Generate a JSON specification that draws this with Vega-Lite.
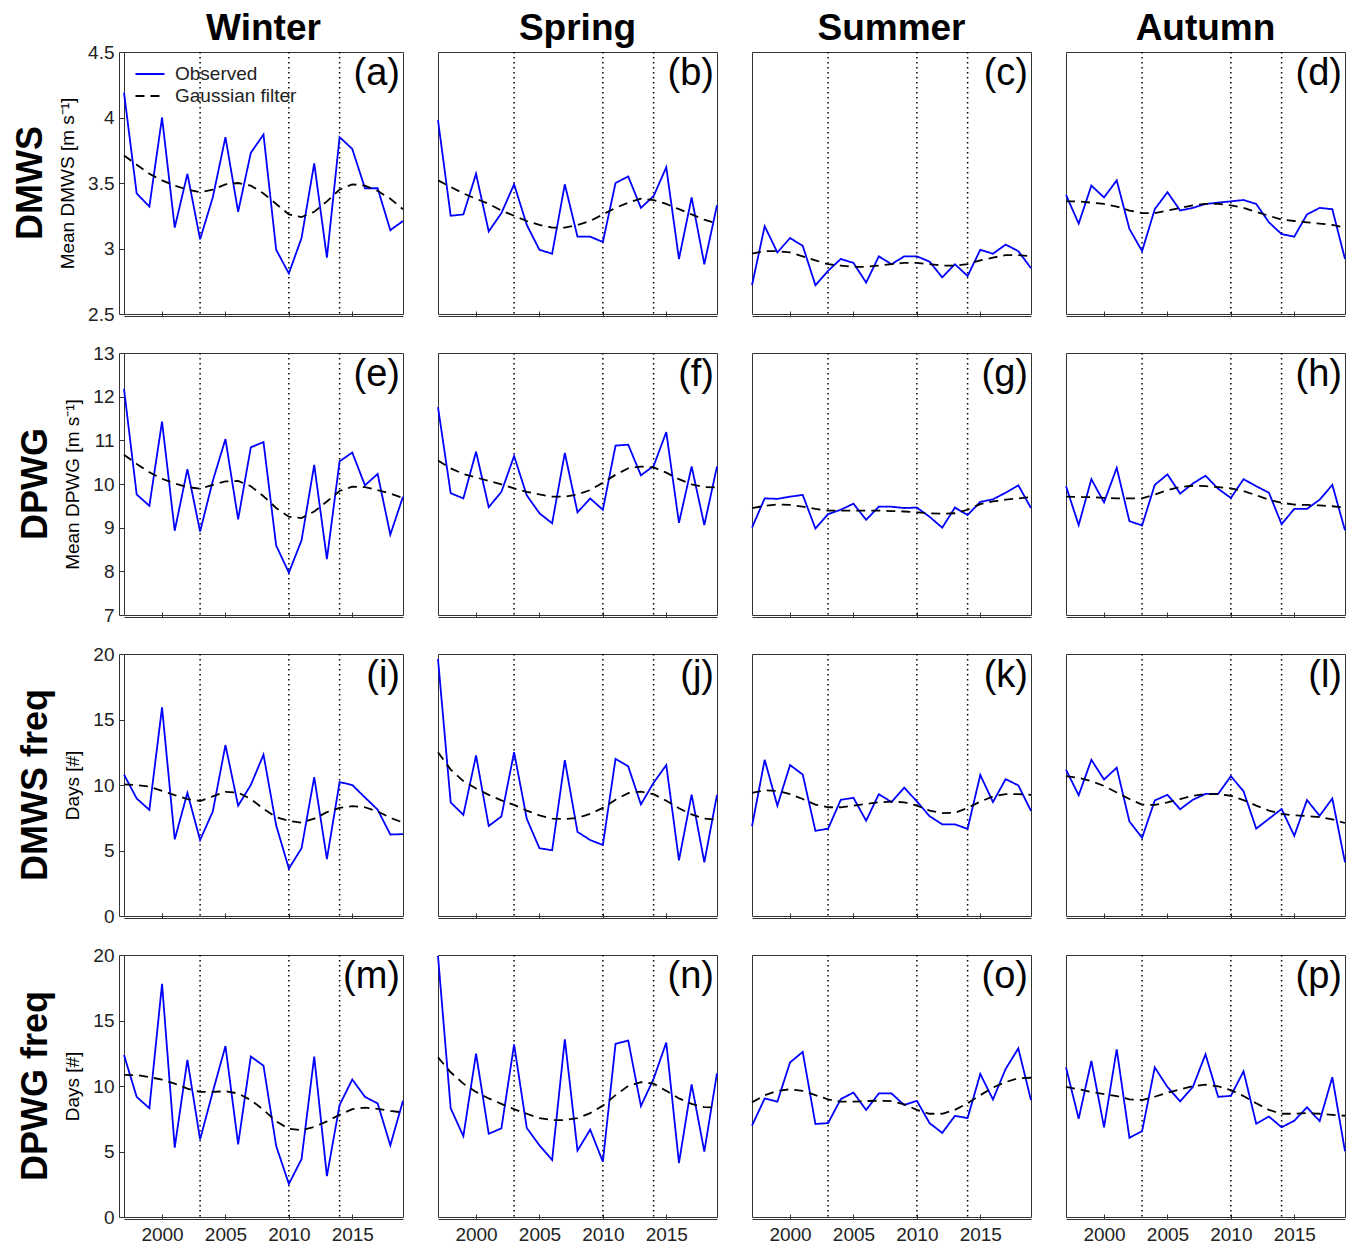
{
"$schema":"https://vega.github.io/schema/vega-lite/v6.json",
"padding":{"left":12,"top":10,"right":0,"bottom":0},
"config":{"font":"Liberation Sans","view":{"stroke":"#333","strokeWidth":1},
"axis":{"grid":false,"domainColor":"#333","tickColor":"#333","labelColor":"#222","labelFontSize":19,"titleFontSize":19,"titleFontWeight":"normal","titleColor":"#000","tickSize":-5,"labelPadding":10,"titlePadding":10},
"axisX":{"labelPadding":11},
"legend":{"labelFontSize":19,"labelColor":"#222"}},
"data":{"values":[
{"var":"DMWS","season":"Winter","year":1997,"obs":4.19,"gau":3.71,"tag":"(a)"},
{"var":"DMWS","season":"Winter","year":1998,"obs":3.42,"gau":3.64},
{"var":"DMWS","season":"Winter","year":1999,"obs":3.32,"gau":3.57},
{"var":"DMWS","season":"Winter","year":2000,"obs":4.00,"gau":3.52},
{"var":"DMWS","season":"Winter","year":2001,"obs":3.16,"gau":3.48},
{"var":"DMWS","season":"Winter","year":2002,"obs":3.57,"gau":3.45},
{"var":"DMWS","season":"Winter","year":2003,"obs":3.07,"gau":3.43},
{"var":"DMWS","season":"Winter","year":2004,"obs":3.39,"gau":3.45},
{"var":"DMWS","season":"Winter","year":2005,"obs":3.85,"gau":3.49},
{"var":"DMWS","season":"Winter","year":2006,"obs":3.28,"gau":3.50},
{"var":"DMWS","season":"Winter","year":2007,"obs":3.73,"gau":3.48},
{"var":"DMWS","season":"Winter","year":2008,"obs":3.87,"gau":3.42},
{"var":"DMWS","season":"Winter","year":2009,"obs":2.99,"gau":3.34},
{"var":"DMWS","season":"Winter","year":2010,"obs":2.81,"gau":3.26},
{"var":"DMWS","season":"Winter","year":2011,"obs":3.08,"gau":3.24},
{"var":"DMWS","season":"Winter","year":2012,"obs":3.65,"gau":3.28},
{"var":"DMWS","season":"Winter","year":2013,"obs":2.93,"gau":3.36},
{"var":"DMWS","season":"Winter","year":2014,"obs":3.85,"gau":3.45},
{"var":"DMWS","season":"Winter","year":2015,"obs":3.76,"gau":3.49},
{"var":"DMWS","season":"Winter","year":2016,"obs":3.46,"gau":3.48},
{"var":"DMWS","season":"Winter","year":2017,"obs":3.46,"gau":3.44},
{"var":"DMWS","season":"Winter","year":2018,"obs":3.14,"gau":3.38},
{"var":"DMWS","season":"Winter","year":2019,"obs":3.21,"gau":3.30},
{"var":"DMWS","season":"Spring","year":1997,"obs":3.98,"gau":3.52,"tag":"(b)"},
{"var":"DMWS","season":"Spring","year":1998,"obs":3.25,"gau":3.47},
{"var":"DMWS","season":"Spring","year":1999,"obs":3.26,"gau":3.42},
{"var":"DMWS","season":"Spring","year":2000,"obs":3.57,"gau":3.38},
{"var":"DMWS","season":"Spring","year":2001,"obs":3.13,"gau":3.34},
{"var":"DMWS","season":"Spring","year":2002,"obs":3.27,"gau":3.29},
{"var":"DMWS","season":"Spring","year":2003,"obs":3.49,"gau":3.25},
{"var":"DMWS","season":"Spring","year":2004,"obs":3.18,"gau":3.21},
{"var":"DMWS","season":"Spring","year":2005,"obs":2.99,"gau":3.18},
{"var":"DMWS","season":"Spring","year":2006,"obs":2.96,"gau":3.16},
{"var":"DMWS","season":"Spring","year":2007,"obs":3.49,"gau":3.16},
{"var":"DMWS","season":"Spring","year":2008,"obs":3.09,"gau":3.18},
{"var":"DMWS","season":"Spring","year":2009,"obs":3.09,"gau":3.21},
{"var":"DMWS","season":"Spring","year":2010,"obs":3.05,"gau":3.26},
{"var":"DMWS","season":"Spring","year":2011,"obs":3.50,"gau":3.31},
{"var":"DMWS","season":"Spring","year":2012,"obs":3.55,"gau":3.35},
{"var":"DMWS","season":"Spring","year":2013,"obs":3.31,"gau":3.38},
{"var":"DMWS","season":"Spring","year":2014,"obs":3.40,"gau":3.37},
{"var":"DMWS","season":"Spring","year":2015,"obs":3.62,"gau":3.34},
{"var":"DMWS","season":"Spring","year":2016,"obs":2.92,"gau":3.30},
{"var":"DMWS","season":"Spring","year":2017,"obs":3.39,"gau":3.26},
{"var":"DMWS","season":"Spring","year":2018,"obs":2.88,"gau":3.22},
{"var":"DMWS","season":"Spring","year":2019,"obs":3.33,"gau":3.19},
{"var":"DMWS","season":"Summer","year":1997,"obs":2.72,"gau":2.96,"tag":"(c)"},
{"var":"DMWS","season":"Summer","year":1998,"obs":3.17,"gau":2.98},
{"var":"DMWS","season":"Summer","year":1999,"obs":2.97,"gau":2.98},
{"var":"DMWS","season":"Summer","year":2000,"obs":3.08,"gau":2.97},
{"var":"DMWS","season":"Summer","year":2001,"obs":3.02,"gau":2.94},
{"var":"DMWS","season":"Summer","year":2002,"obs":2.72,"gau":2.91},
{"var":"DMWS","season":"Summer","year":2003,"obs":2.83,"gau":2.88},
{"var":"DMWS","season":"Summer","year":2004,"obs":2.92,"gau":2.87},
{"var":"DMWS","season":"Summer","year":2005,"obs":2.89,"gau":2.86},
{"var":"DMWS","season":"Summer","year":2006,"obs":2.74,"gau":2.86},
{"var":"DMWS","season":"Summer","year":2007,"obs":2.94,"gau":2.87},
{"var":"DMWS","season":"Summer","year":2008,"obs":2.88,"gau":2.88},
{"var":"DMWS","season":"Summer","year":2009,"obs":2.94,"gau":2.89},
{"var":"DMWS","season":"Summer","year":2010,"obs":2.94,"gau":2.89},
{"var":"DMWS","season":"Summer","year":2011,"obs":2.90,"gau":2.88},
{"var":"DMWS","season":"Summer","year":2012,"obs":2.78,"gau":2.87},
{"var":"DMWS","season":"Summer","year":2013,"obs":2.88,"gau":2.87},
{"var":"DMWS","season":"Summer","year":2014,"obs":2.79,"gau":2.88},
{"var":"DMWS","season":"Summer","year":2015,"obs":2.99,"gau":2.91},
{"var":"DMWS","season":"Summer","year":2016,"obs":2.96,"gau":2.93},
{"var":"DMWS","season":"Summer","year":2017,"obs":3.03,"gau":2.95},
{"var":"DMWS","season":"Summer","year":2018,"obs":2.98,"gau":2.95},
{"var":"DMWS","season":"Summer","year":2019,"obs":2.85,"gau":2.94},
{"var":"DMWS","season":"Autumn","year":1997,"obs":3.41,"gau":3.36,"tag":"(d)"},
{"var":"DMWS","season":"Autumn","year":1998,"obs":3.19,"gau":3.36},
{"var":"DMWS","season":"Autumn","year":1999,"obs":3.48,"gau":3.35},
{"var":"DMWS","season":"Autumn","year":2000,"obs":3.39,"gau":3.34},
{"var":"DMWS","season":"Autumn","year":2001,"obs":3.52,"gau":3.32},
{"var":"DMWS","season":"Autumn","year":2002,"obs":3.15,"gau":3.29},
{"var":"DMWS","season":"Autumn","year":2003,"obs":2.98,"gau":3.27},
{"var":"DMWS","season":"Autumn","year":2004,"obs":3.30,"gau":3.27},
{"var":"DMWS","season":"Autumn","year":2005,"obs":3.43,"gau":3.29},
{"var":"DMWS","season":"Autumn","year":2006,"obs":3.29,"gau":3.31},
{"var":"DMWS","season":"Autumn","year":2007,"obs":3.31,"gau":3.33},
{"var":"DMWS","season":"Autumn","year":2008,"obs":3.34,"gau":3.34},
{"var":"DMWS","season":"Autumn","year":2009,"obs":3.35,"gau":3.34},
{"var":"DMWS","season":"Autumn","year":2010,"obs":3.36,"gau":3.33},
{"var":"DMWS","season":"Autumn","year":2011,"obs":3.37,"gau":3.31},
{"var":"DMWS","season":"Autumn","year":2012,"obs":3.34,"gau":3.28},
{"var":"DMWS","season":"Autumn","year":2013,"obs":3.20,"gau":3.25},
{"var":"DMWS","season":"Autumn","year":2014,"obs":3.11,"gau":3.22},
{"var":"DMWS","season":"Autumn","year":2015,"obs":3.09,"gau":3.21},
{"var":"DMWS","season":"Autumn","year":2016,"obs":3.26,"gau":3.20},
{"var":"DMWS","season":"Autumn","year":2017,"obs":3.31,"gau":3.19},
{"var":"DMWS","season":"Autumn","year":2018,"obs":3.30,"gau":3.18},
{"var":"DMWS","season":"Autumn","year":2019,"obs":2.92,"gau":3.16},
{"var":"DPWG","season":"Winter","year":1997,"obs":12.18,"gau":10.67,"tag":"(e)"},
{"var":"DPWG","season":"Winter","year":1998,"obs":9.76,"gau":10.46},
{"var":"DPWG","season":"Winter","year":1999,"obs":9.50,"gau":10.27},
{"var":"DPWG","season":"Winter","year":2000,"obs":11.43,"gau":10.12},
{"var":"DPWG","season":"Winter","year":2001,"obs":8.93,"gau":10.01},
{"var":"DPWG","season":"Winter","year":2002,"obs":10.34,"gau":9.93},
{"var":"DPWG","season":"Winter","year":2003,"obs":8.91,"gau":9.89},
{"var":"DPWG","season":"Winter","year":2004,"obs":10.07,"gau":9.98},
{"var":"DPWG","season":"Winter","year":2005,"obs":11.03,"gau":10.06},
{"var":"DPWG","season":"Winter","year":2006,"obs":9.19,"gau":10.07},
{"var":"DPWG","season":"Winter","year":2007,"obs":10.84,"gau":9.95},
{"var":"DPWG","season":"Winter","year":2008,"obs":10.96,"gau":9.72},
{"var":"DPWG","season":"Winter","year":2009,"obs":8.59,"gau":9.45},
{"var":"DPWG","season":"Winter","year":2010,"obs":7.97,"gau":9.25},
{"var":"DPWG","season":"Winter","year":2011,"obs":8.71,"gau":9.22},
{"var":"DPWG","season":"Winter","year":2012,"obs":10.44,"gau":9.37},
{"var":"DPWG","season":"Winter","year":2013,"obs":8.28,"gau":9.60},
{"var":"DPWG","season":"Winter","year":2014,"obs":10.52,"gau":9.84},
{"var":"DPWG","season":"Winter","year":2015,"obs":10.72,"gau":9.94},
{"var":"DPWG","season":"Winter","year":2016,"obs":9.97,"gau":9.93},
{"var":"DPWG","season":"Winter","year":2017,"obs":10.23,"gau":9.86},
{"var":"DPWG","season":"Winter","year":2018,"obs":8.84,"gau":9.78},
{"var":"DPWG","season":"Winter","year":2019,"obs":9.71,"gau":9.68},
{"var":"DPWG","season":"Spring","year":1997,"obs":11.76,"gau":10.54,"tag":"(f)"},
{"var":"DPWG","season":"Spring","year":1998,"obs":9.79,"gau":10.36},
{"var":"DPWG","season":"Spring","year":1999,"obs":9.67,"gau":10.23},
{"var":"DPWG","season":"Spring","year":2000,"obs":10.74,"gau":10.15},
{"var":"DPWG","season":"Spring","year":2001,"obs":9.47,"gau":10.07},
{"var":"DPWG","season":"Spring","year":2002,"obs":9.82,"gau":9.99},
{"var":"DPWG","season":"Spring","year":2003,"obs":10.64,"gau":9.90},
{"var":"DPWG","season":"Spring","year":2004,"obs":9.74,"gau":9.82},
{"var":"DPWG","season":"Spring","year":2005,"obs":9.33,"gau":9.76},
{"var":"DPWG","season":"Spring","year":2006,"obs":9.10,"gau":9.71},
{"var":"DPWG","season":"Spring","year":2007,"obs":10.71,"gau":9.71},
{"var":"DPWG","season":"Spring","year":2008,"obs":9.35,"gau":9.76},
{"var":"DPWG","season":"Spring","year":2009,"obs":9.67,"gau":9.86},
{"var":"DPWG","season":"Spring","year":2010,"obs":9.41,"gau":10.03},
{"var":"DPWG","season":"Spring","year":2011,"obs":10.88,"gau":10.21},
{"var":"DPWG","season":"Spring","year":2012,"obs":10.90,"gau":10.36},
{"var":"DPWG","season":"Spring","year":2013,"obs":10.20,"gau":10.40},
{"var":"DPWG","season":"Spring","year":2014,"obs":10.41,"gau":10.38},
{"var":"DPWG","season":"Spring","year":2015,"obs":11.19,"gau":10.26},
{"var":"DPWG","season":"Spring","year":2016,"obs":9.11,"gau":10.11},
{"var":"DPWG","season":"Spring","year":2017,"obs":10.40,"gau":9.99},
{"var":"DPWG","season":"Spring","year":2018,"obs":9.06,"gau":9.93},
{"var":"DPWG","season":"Spring","year":2019,"obs":10.40,"gau":9.92},
{"var":"DPWG","season":"Summer","year":1997,"obs":9.00,"gau":9.45,"tag":"(g)"},
{"var":"DPWG","season":"Summer","year":1998,"obs":9.67,"gau":9.50},
{"var":"DPWG","season":"Summer","year":1999,"obs":9.66,"gau":9.53},
{"var":"DPWG","season":"Summer","year":2000,"obs":9.71,"gau":9.52},
{"var":"DPWG","season":"Summer","year":2001,"obs":9.75,"gau":9.48},
{"var":"DPWG","season":"Summer","year":2002,"obs":8.98,"gau":9.43},
{"var":"DPWG","season":"Summer","year":2003,"obs":9.31,"gau":9.39},
{"var":"DPWG","season":"Summer","year":2004,"obs":9.41,"gau":9.39},
{"var":"DPWG","season":"Summer","year":2005,"obs":9.55,"gau":9.39},
{"var":"DPWG","season":"Summer","year":2006,"obs":9.18,"gau":9.39},
{"var":"DPWG","season":"Summer","year":2007,"obs":9.48,"gau":9.39},
{"var":"DPWG","season":"Summer","year":2008,"obs":9.48,"gau":9.38},
{"var":"DPWG","season":"Summer","year":2009,"obs":9.45,"gau":9.37},
{"var":"DPWG","season":"Summer","year":2010,"obs":9.46,"gau":9.35},
{"var":"DPWG","season":"Summer","year":2011,"obs":9.25,"gau":9.33},
{"var":"DPWG","season":"Summer","year":2012,"obs":9.00,"gau":9.32},
{"var":"DPWG","season":"Summer","year":2013,"obs":9.46,"gau":9.33},
{"var":"DPWG","season":"Summer","year":2014,"obs":9.29,"gau":9.41},
{"var":"DPWG","season":"Summer","year":2015,"obs":9.59,"gau":9.54},
{"var":"DPWG","season":"Summer","year":2016,"obs":9.65,"gau":9.60},
{"var":"DPWG","season":"Summer","year":2017,"obs":9.80,"gau":9.64},
{"var":"DPWG","season":"Summer","year":2018,"obs":9.97,"gau":9.67},
{"var":"DPWG","season":"Summer","year":2019,"obs":9.45,"gau":9.70},
{"var":"DPWG","season":"Autumn","year":1997,"obs":9.95,"gau":9.71,"tag":"(h)"},
{"var":"DPWG","season":"Autumn","year":1998,"obs":9.06,"gau":9.70},
{"var":"DPWG","season":"Autumn","year":1999,"obs":10.11,"gau":9.70},
{"var":"DPWG","season":"Autumn","year":2000,"obs":9.58,"gau":9.68},
{"var":"DPWG","season":"Autumn","year":2001,"obs":10.37,"gau":9.67},
{"var":"DPWG","season":"Autumn","year":2002,"obs":9.15,"gau":9.67},
{"var":"DPWG","season":"Autumn","year":2003,"obs":9.05,"gau":9.67},
{"var":"DPWG","season":"Autumn","year":2004,"obs":9.98,"gau":9.76},
{"var":"DPWG","season":"Autumn","year":2005,"obs":10.22,"gau":9.86},
{"var":"DPWG","season":"Autumn","year":2006,"obs":9.78,"gau":9.93},
{"var":"DPWG","season":"Autumn","year":2007,"obs":10.01,"gau":9.96},
{"var":"DPWG","season":"Autumn","year":2008,"obs":10.19,"gau":9.95},
{"var":"DPWG","season":"Autumn","year":2009,"obs":9.89,"gau":9.93},
{"var":"DPWG","season":"Autumn","year":2010,"obs":9.68,"gau":9.90},
{"var":"DPWG","season":"Autumn","year":2011,"obs":10.11,"gau":9.84},
{"var":"DPWG","season":"Autumn","year":2012,"obs":9.95,"gau":9.74},
{"var":"DPWG","season":"Autumn","year":2013,"obs":9.80,"gau":9.64},
{"var":"DPWG","season":"Autumn","year":2014,"obs":9.08,"gau":9.57},
{"var":"DPWG","season":"Autumn","year":2015,"obs":9.43,"gau":9.53},
{"var":"DPWG","season":"Autumn","year":2016,"obs":9.43,"gau":9.52},
{"var":"DPWG","season":"Autumn","year":2017,"obs":9.64,"gau":9.51},
{"var":"DPWG","season":"Autumn","year":2018,"obs":9.98,"gau":9.49},
{"var":"DPWG","season":"Autumn","year":2019,"obs":8.94,"gau":9.46},
{"var":"DMWS freq","season":"Winter","year":1997,"obs":10.8,"gau":10.05,"tag":"(i)"},
{"var":"DMWS freq","season":"Winter","year":1998,"obs":8.97,"gau":10.0},
{"var":"DMWS freq","season":"Winter","year":1999,"obs":8.1,"gau":9.88},
{"var":"DMWS freq","season":"Winter","year":2000,"obs":15.92,"gau":9.55},
{"var":"DMWS freq","season":"Winter","year":2001,"obs":5.85,"gau":9.23},
{"var":"DMWS freq","season":"Winter","year":2002,"obs":9.4,"gau":8.93},
{"var":"DMWS freq","season":"Winter","year":2003,"obs":5.8,"gau":8.78},
{"var":"DMWS freq","season":"Winter","year":2004,"obs":7.97,"gau":9.13},
{"var":"DMWS freq","season":"Winter","year":2005,"obs":13.05,"gau":9.48},
{"var":"DMWS freq","season":"Winter","year":2006,"obs":8.42,"gau":9.42},
{"var":"DMWS freq","season":"Winter","year":2007,"obs":10.0,"gau":8.93},
{"var":"DMWS freq","season":"Winter","year":2008,"obs":12.32,"gau":8.18},
{"var":"DMWS freq","season":"Winter","year":2009,"obs":6.92,"gau":7.55},
{"var":"DMWS freq","season":"Winter","year":2010,"obs":3.62,"gau":7.25},
{"var":"DMWS freq","season":"Winter","year":2011,"obs":5.17,"gau":7.13},
{"var":"DMWS freq","season":"Winter","year":2012,"obs":10.6,"gau":7.43},
{"var":"DMWS freq","season":"Winter","year":2013,"obs":4.35,"gau":7.93},
{"var":"DMWS freq","season":"Winter","year":2014,"obs":10.22,"gau":8.25},
{"var":"DMWS freq","season":"Winter","year":2015,"obs":10.0,"gau":8.38},
{"var":"DMWS freq","season":"Winter","year":2016,"obs":9.05,"gau":8.3},
{"var":"DMWS freq","season":"Winter","year":2017,"obs":8.12,"gau":7.98},
{"var":"DMWS freq","season":"Winter","year":2018,"obs":6.22,"gau":7.5},
{"var":"DMWS freq","season":"Winter","year":2019,"obs":6.25,"gau":7.13},
{"var":"DMWS freq","season":"Spring","year":1997,"obs":19.62,"gau":12.5,"tag":"(j)"},
{"var":"DMWS freq","season":"Spring","year":1998,"obs":8.67,"gau":11.18},
{"var":"DMWS freq","season":"Spring","year":1999,"obs":7.72,"gau":10.3},
{"var":"DMWS freq","season":"Spring","year":2000,"obs":12.25,"gau":9.73},
{"var":"DMWS freq","season":"Spring","year":2001,"obs":6.87,"gau":9.25},
{"var":"DMWS freq","season":"Spring","year":2002,"obs":7.6,"gau":8.83},
{"var":"DMWS freq","season":"Spring","year":2003,"obs":12.5,"gau":8.48},
{"var":"DMWS freq","season":"Spring","year":2004,"obs":7.42,"gau":8.05},
{"var":"DMWS freq","season":"Spring","year":2005,"obs":5.17,"gau":7.68},
{"var":"DMWS freq","season":"Spring","year":2006,"obs":5.02,"gau":7.43},
{"var":"DMWS freq","season":"Spring","year":2007,"obs":11.9,"gau":7.4},
{"var":"DMWS freq","season":"Spring","year":2008,"obs":6.42,"gau":7.48},
{"var":"DMWS freq","season":"Spring","year":2009,"obs":5.8,"gau":7.8},
{"var":"DMWS freq","season":"Spring","year":2010,"obs":5.42,"gau":8.25},
{"var":"DMWS freq","season":"Spring","year":2011,"obs":12.0,"gau":8.88},
{"var":"DMWS freq","season":"Spring","year":2012,"obs":11.42,"gau":9.38},
{"var":"DMWS freq","season":"Spring","year":2013,"obs":8.52,"gau":9.5},
{"var":"DMWS freq","season":"Spring","year":2014,"obs":10.17,"gau":9.3},
{"var":"DMWS freq","season":"Spring","year":2015,"obs":11.52,"gau":8.8},
{"var":"DMWS freq","season":"Spring","year":2016,"obs":4.25,"gau":8.23},
{"var":"DMWS freq","season":"Spring","year":2017,"obs":9.27,"gau":7.75},
{"var":"DMWS freq","season":"Spring","year":2018,"obs":4.1,"gau":7.43},
{"var":"DMWS freq","season":"Spring","year":2019,"obs":9.25,"gau":7.35},
{"var":"DMWS freq","season":"Summer","year":1997,"obs":6.85,"gau":9.4,"tag":"(k)"},
{"var":"DMWS freq","season":"Summer","year":1998,"obs":11.92,"gau":9.6},
{"var":"DMWS freq","season":"Summer","year":1999,"obs":8.42,"gau":9.55},
{"var":"DMWS freq","season":"Summer","year":2000,"obs":11.52,"gau":9.3},
{"var":"DMWS freq","season":"Summer","year":2001,"obs":10.8,"gau":8.93},
{"var":"DMWS freq","season":"Summer","year":2002,"obs":6.5,"gau":8.5},
{"var":"DMWS freq","season":"Summer","year":2003,"obs":6.67,"gau":8.3},
{"var":"DMWS freq","season":"Summer","year":2004,"obs":8.87,"gau":8.3},
{"var":"DMWS freq","season":"Summer","year":2005,"obs":9.02,"gau":8.43},
{"var":"DMWS freq","season":"Summer","year":2006,"obs":7.27,"gau":8.55},
{"var":"DMWS freq","season":"Summer","year":2007,"obs":9.3,"gau":8.68},
{"var":"DMWS freq","season":"Summer","year":2008,"obs":8.7,"gau":8.73},
{"var":"DMWS freq","season":"Summer","year":2009,"obs":9.8,"gau":8.68},
{"var":"DMWS freq","season":"Summer","year":2010,"obs":8.75,"gau":8.43},
{"var":"DMWS freq","season":"Summer","year":2011,"obs":7.62,"gau":8.05},
{"var":"DMWS freq","season":"Summer","year":2012,"obs":7.0,"gau":7.85},
{"var":"DMWS freq","season":"Summer","year":2013,"obs":7.0,"gau":7.88},
{"var":"DMWS freq","season":"Summer","year":2014,"obs":6.65,"gau":8.25},
{"var":"DMWS freq","season":"Summer","year":2015,"obs":10.77,"gau":8.73},
{"var":"DMWS freq","season":"Summer","year":2016,"obs":8.7,"gau":9.13},
{"var":"DMWS freq","season":"Summer","year":2017,"obs":10.45,"gau":9.3},
{"var":"DMWS freq","season":"Summer","year":2018,"obs":9.97,"gau":9.3},
{"var":"DMWS freq","season":"Summer","year":2019,"obs":8.02,"gau":9.25},
{"var":"DMWS freq","season":"Autumn","year":1997,"obs":11.17,"gau":10.67,"tag":"(l)"},
{"var":"DMWS freq","season":"Autumn","year":1998,"obs":9.22,"gau":10.55},
{"var":"DMWS freq","season":"Autumn","year":1999,"obs":11.92,"gau":10.3},
{"var":"DMWS freq","season":"Autumn","year":2000,"obs":10.42,"gau":9.93},
{"var":"DMWS freq","season":"Autumn","year":2001,"obs":11.32,"gau":9.43},
{"var":"DMWS freq","season":"Autumn","year":2002,"obs":7.22,"gau":8.93},
{"var":"DMWS freq","season":"Autumn","year":2003,"obs":5.97,"gau":8.5},
{"var":"DMWS freq","season":"Autumn","year":2004,"obs":8.82,"gau":8.48},
{"var":"DMWS freq","season":"Autumn","year":2005,"obs":9.25,"gau":8.68},
{"var":"DMWS freq","season":"Autumn","year":2006,"obs":8.15,"gau":8.93},
{"var":"DMWS freq","season":"Autumn","year":2007,"obs":8.87,"gau":9.18},
{"var":"DMWS freq","season":"Autumn","year":2008,"obs":9.32,"gau":9.3},
{"var":"DMWS freq","season":"Autumn","year":2009,"obs":9.32,"gau":9.3},
{"var":"DMWS freq","season":"Autumn","year":2010,"obs":10.67,"gau":9.18},
{"var":"DMWS freq","season":"Autumn","year":2011,"obs":9.52,"gau":8.85},
{"var":"DMWS freq","season":"Autumn","year":2012,"obs":6.67,"gau":8.43},
{"var":"DMWS freq","season":"Autumn","year":2013,"obs":7.42,"gau":8.05},
{"var":"DMWS freq","season":"Autumn","year":2014,"obs":8.17,"gau":7.8},
{"var":"DMWS freq","season":"Autumn","year":2015,"obs":6.12,"gau":7.68},
{"var":"DMWS freq","season":"Autumn","year":2016,"obs":8.85,"gau":7.63},
{"var":"DMWS freq","season":"Autumn","year":2017,"obs":7.65,"gau":7.55},
{"var":"DMWS freq","season":"Autumn","year":2018,"obs":8.97,"gau":7.38},
{"var":"DMWS freq","season":"Autumn","year":2019,"obs":4.1,"gau":7.1},
{"var":"DPWG freq","season":"Winter","year":1997,"obs":12.37,"gau":10.85,"tag":"(m)"},
{"var":"DPWG freq","season":"Winter","year":1998,"obs":9.17,"gau":10.83},
{"var":"DPWG freq","season":"Winter","year":1999,"obs":8.3,"gau":10.68},
{"var":"DPWG freq","season":"Winter","year":2000,"obs":17.8,"gau":10.48},
{"var":"DPWG freq","season":"Winter","year":2001,"obs":5.3,"gau":10.18},
{"var":"DPWG freq","season":"Winter","year":2002,"obs":12.0,"gau":9.8},
{"var":"DPWG freq","season":"Winter","year":2003,"obs":5.92,"gau":9.55},
{"var":"DPWG freq","season":"Winter","year":2004,"obs":9.55,"gau":9.55},
{"var":"DPWG freq","season":"Winter","year":2005,"obs":13.05,"gau":9.6},
{"var":"DPWG freq","season":"Winter","year":2006,"obs":5.55,"gau":9.43},
{"var":"DPWG freq","season":"Winter","year":2007,"obs":12.25,"gau":8.93},
{"var":"DPWG freq","season":"Winter","year":2008,"obs":11.55,"gau":8.18},
{"var":"DPWG freq","season":"Winter","year":2009,"obs":5.42,"gau":7.3},
{"var":"DPWG freq","season":"Winter","year":2010,"obs":2.52,"gau":6.73},
{"var":"DPWG freq","season":"Winter","year":2011,"obs":4.42,"gau":6.63},
{"var":"DPWG freq","season":"Winter","year":2012,"obs":12.25,"gau":6.88},
{"var":"DPWG freq","season":"Winter","year":2013,"obs":3.12,"gau":7.3},
{"var":"DPWG freq","season":"Winter","year":2014,"obs":8.55,"gau":7.8},
{"var":"DPWG freq","season":"Winter","year":2015,"obs":10.5,"gau":8.23},
{"var":"DPWG freq","season":"Winter","year":2016,"obs":9.17,"gau":8.35},
{"var":"DPWG freq","season":"Winter","year":2017,"obs":8.67,"gau":8.25},
{"var":"DPWG freq","season":"Winter","year":2018,"obs":5.47,"gau":8.1},
{"var":"DPWG freq","season":"Winter","year":2019,"obs":8.87,"gau":7.98},
{"var":"DPWG freq","season":"Spring","year":1997,"obs":19.92,"gau":12.18,"tag":"(n)"},
{"var":"DPWG freq","season":"Spring","year":1998,"obs":8.3,"gau":11.05},
{"var":"DPWG freq","season":"Spring","year":1999,"obs":6.17,"gau":10.18},
{"var":"DPWG freq","season":"Spring","year":2000,"obs":12.47,"gau":9.55},
{"var":"DPWG freq","season":"Spring","year":2001,"obs":6.35,"gau":9.05},
{"var":"DPWG freq","season":"Spring","year":2002,"obs":6.77,"gau":8.63},
{"var":"DPWG freq","season":"Spring","year":2003,"obs":13.17,"gau":8.23},
{"var":"DPWG freq","season":"Spring","year":2004,"obs":6.8,"gau":7.88},
{"var":"DPWG freq","season":"Spring","year":2005,"obs":5.47,"gau":7.55},
{"var":"DPWG freq","season":"Spring","year":2006,"obs":4.35,"gau":7.4},
{"var":"DPWG freq","season":"Spring","year":2007,"obs":13.57,"gau":7.4},
{"var":"DPWG freq","season":"Spring","year":2008,"obs":5.07,"gau":7.55},
{"var":"DPWG freq","season":"Spring","year":2009,"obs":6.67,"gau":7.93},
{"var":"DPWG freq","season":"Spring","year":2010,"obs":4.22,"gau":8.5},
{"var":"DPWG freq","season":"Spring","year":2011,"obs":13.22,"gau":9.3},
{"var":"DPWG freq","season":"Spring","year":2012,"obs":13.47,"gau":10.0},
{"var":"DPWG freq","season":"Spring","year":2013,"obs":8.47,"gau":10.3},
{"var":"DPWG freq","season":"Spring","year":2014,"obs":10.55,"gau":10.18},
{"var":"DPWG freq","season":"Spring","year":2015,"obs":13.32,"gau":9.63},
{"var":"DPWG freq","season":"Spring","year":2016,"obs":4.12,"gau":9.05},
{"var":"DPWG freq","season":"Spring","year":2017,"obs":10.12,"gau":8.63},
{"var":"DPWG freq","season":"Spring","year":2018,"obs":5.0,"gau":8.38},
{"var":"DPWG freq","season":"Spring","year":2019,"obs":10.97,"gau":8.35},
{"var":"DPWG freq","season":"Summer","year":1997,"obs":6.97,"gau":8.75,"tag":"(o)"},
{"var":"DPWG freq","season":"Summer","year":1998,"obs":9.05,"gau":9.3},
{"var":"DPWG freq","season":"Summer","year":1999,"obs":8.8,"gau":9.63},
{"var":"DPWG freq","season":"Summer","year":2000,"obs":11.8,"gau":9.75},
{"var":"DPWG freq","season":"Summer","year":2001,"obs":12.6,"gau":9.63},
{"var":"DPWG freq","season":"Summer","year":2002,"obs":7.1,"gau":9.3},
{"var":"DPWG freq","season":"Summer","year":2003,"obs":7.17,"gau":8.98},
{"var":"DPWG freq","season":"Summer","year":2004,"obs":9.0,"gau":8.8},
{"var":"DPWG freq","season":"Summer","year":2005,"obs":9.5,"gau":8.8},
{"var":"DPWG freq","season":"Summer","year":2006,"obs":8.17,"gau":8.85},
{"var":"DPWG freq","season":"Summer","year":2007,"obs":9.43,"gau":8.88},
{"var":"DPWG freq","season":"Summer","year":2008,"obs":9.43,"gau":8.85},
{"var":"DPWG freq","season":"Summer","year":2009,"obs":8.55,"gau":8.6},
{"var":"DPWG freq","season":"Summer","year":2010,"obs":8.87,"gau":8.18},
{"var":"DPWG freq","season":"Summer","year":2011,"obs":7.17,"gau":7.88},
{"var":"DPWG freq","season":"Summer","year":2012,"obs":6.42,"gau":7.88},
{"var":"DPWG freq","season":"Summer","year":2013,"obs":7.72,"gau":8.18},
{"var":"DPWG freq","season":"Summer","year":2014,"obs":7.55,"gau":8.68},
{"var":"DPWG freq","season":"Summer","year":2015,"obs":10.92,"gau":9.3},
{"var":"DPWG freq","season":"Summer","year":2016,"obs":8.97,"gau":9.88},
{"var":"DPWG freq","season":"Summer","year":2017,"obs":11.3,"gau":10.3},
{"var":"DPWG freq","season":"Summer","year":2018,"obs":12.87,"gau":10.6},
{"var":"DPWG freq","season":"Summer","year":2019,"obs":8.92,"gau":10.63},
{"var":"DPWG freq","season":"Autumn","year":1997,"obs":11.42,"gau":9.93,"tag":"(p)"},
{"var":"DPWG freq","season":"Autumn","year":1998,"obs":7.5,"gau":9.75},
{"var":"DPWG freq","season":"Autumn","year":1999,"obs":11.92,"gau":9.55},
{"var":"DPWG freq","season":"Autumn","year":2000,"obs":6.85,"gau":9.38},
{"var":"DPWG freq","season":"Autumn","year":2001,"obs":12.8,"gau":9.23},
{"var":"DPWG freq","season":"Autumn","year":2002,"obs":6.05,"gau":8.98},
{"var":"DPWG freq","season":"Autumn","year":2003,"obs":6.55,"gau":8.93},
{"var":"DPWG freq","season":"Autumn","year":2004,"obs":11.42,"gau":9.18},
{"var":"DPWG freq","season":"Autumn","year":2005,"obs":9.92,"gau":9.48},
{"var":"DPWG freq","season":"Autumn","year":2006,"obs":8.82,"gau":9.75},
{"var":"DPWG freq","season":"Autumn","year":2007,"obs":9.92,"gau":9.98},
{"var":"DPWG freq","season":"Autumn","year":2008,"obs":12.42,"gau":10.1},
{"var":"DPWG freq","season":"Autumn","year":2009,"obs":9.17,"gau":9.98},
{"var":"DPWG freq","season":"Autumn","year":2010,"obs":9.25,"gau":9.68},
{"var":"DPWG freq","season":"Autumn","year":2011,"obs":11.12,"gau":9.23},
{"var":"DPWG freq","season":"Autumn","year":2012,"obs":7.12,"gau":8.68},
{"var":"DPWG freq","season":"Autumn","year":2013,"obs":7.67,"gau":8.18},
{"var":"DPWG freq","season":"Autumn","year":2014,"obs":6.85,"gau":7.88},
{"var":"DPWG freq","season":"Autumn","year":2015,"obs":7.35,"gau":7.88},
{"var":"DPWG freq","season":"Autumn","year":2016,"obs":8.37,"gau":7.93},
{"var":"DPWG freq","season":"Autumn","year":2017,"obs":7.32,"gau":7.88},
{"var":"DPWG freq","season":"Autumn","year":2018,"obs":10.67,"gau":7.8},
{"var":"DPWG freq","season":"Autumn","year":2019,"obs":5.02,"gau":7.73}
]},
"spacing":20,
"vconcat":[
{"transform":[{"filter":"datum.var == 'DMWS'"}],
 "facet":{"row":{"field":"var","title":null,"header":{"labelAngle":-90,"labelOrient":"left","labelFontSize":36,"labelFontWeight":"bold","labelColor":"#000","labelPadding":-8}},
  "column":{"field":"season","sort":["Winter","Spring","Summer","Autumn"],"title":null,"header":{"labelFontSize":37,"labelFontWeight":"bold","labelColor":"#000","labelPadding":2}}},
 "spacing":{"column":25},
 "spec":{"width":279,"height":262,"layer":[
  {"transform":[{"filter":"datum.year == 2003 || datum.year == 2010 || datum.year == 2014"}],"mark":{"type":"rule","strokeDash":[1.5,3.5],"strokeWidth":1.5,"color":"#000"},"encoding":{"x":{"field":"year","type":"quantitative"}}},
  {"mark":{"type":"line","strokeWidth":1.8},"encoding":{"x":{"field":"year","type":"quantitative","scale":{"domain":[1997,2019],"nice":false,"zero":false},"axis":{"values":[2000,2005,2010,2015],"labels":false,"title":null}},"y":{"field":"obs","type":"quantitative","scale":{"domain":[2.5,4.5],"nice":false,"zero":false},"axis":{"values":[2.5,3,3.5,4,4.5],"format":"~g","title":"Mean DMWS [m s⁻¹]"}},
   "color":{"datum":"Observed","scale":{"domain":["Observed","Gaussian filter"],"range":["#0000ff","#000000"]},"legend":{"title":null,"orient":"none","legendX":15,"legendY":11,"symbolType":"M-1.45,0H1.45","symbolSize":400,"symbolStrokeWidth":1.8,"labelOffset":14,"rowPadding":1}},
   "strokeDash":{"datum":"Observed","scale":{"domain":["Observed","Gaussian filter"],"range":[[1,0],[9,6]]},"legend":{"title":null,"orient":"none","legendX":15,"legendY":11,"symbolType":"M-1.45,0H1.45","symbolSize":400,"symbolStrokeWidth":1.8,"labelOffset":14,"rowPadding":1}}}},
  {"mark":{"type":"line","strokeWidth":1.8},"encoding":{"x":{"field":"year","type":"quantitative"},"y":{"field":"gau","type":"quantitative","axis":{"title":"Mean DMWS [m s⁻¹]"}},"color":{"datum":"Gaussian filter"},"strokeDash":{"datum":"Gaussian filter"}}},
  {"transform":[{"filter":"datum.year == 1997"}],"mark":{"type":"text","align":"right","baseline":"top","fontSize":38,"dx":-3,"dy":3},"encoding":{"x":{"datum":2019},"y":{"datum":4.5},"text":{"field":"tag"}}}
 ]}},
{"transform":[{"filter":"datum.var == 'DPWG'"}],
 "facet":{"row":{"field":"var","title":null,"header":{"labelAngle":-90,"labelOrient":"left","labelFontSize":36,"labelFontWeight":"bold","labelColor":"#000","labelPadding":-8}},
  "column":{"field":"season","sort":["Winter","Spring","Summer","Autumn"],"title":null,"header":{"labels":false}}},
 "spacing":{"column":25},
 "spec":{"width":279,"height":262,"layer":[
  {"transform":[{"filter":"datum.year == 2003 || datum.year == 2010 || datum.year == 2014"}],"mark":{"type":"rule","strokeDash":[1.5,3.5],"strokeWidth":1.5,"color":"#000"},"encoding":{"x":{"field":"year","type":"quantitative"}}},
  {"mark":{"type":"line","strokeWidth":1.8},"encoding":{"x":{"field":"year","type":"quantitative","scale":{"domain":[1997,2019],"nice":false,"zero":false},"axis":{"values":[2000,2005,2010,2015],"labels":false,"title":null}},"y":{"field":"obs","type":"quantitative","scale":{"domain":[7,13],"nice":false,"zero":false},"axis":{"values":[7,8,9,10,11,12,13],"title":"Mean DPWG [m s⁻¹]"}},"color":{"datum":"Observed"},"strokeDash":{"datum":"Observed"}}},
  {"mark":{"type":"line","strokeWidth":1.8},"encoding":{"x":{"field":"year","type":"quantitative"},"y":{"field":"gau","type":"quantitative","axis":{"title":"Mean DPWG [m s⁻¹]"}},"color":{"datum":"Gaussian filter"},"strokeDash":{"datum":"Gaussian filter"}}},
  {"transform":[{"filter":"datum.year == 1997"}],"mark":{"type":"text","align":"right","baseline":"top","fontSize":38,"dx":-3,"dy":3},"encoding":{"x":{"datum":2019},"y":{"datum":13},"text":{"field":"tag"}}}
 ]}},
{"transform":[{"filter":"datum.var == 'DMWS freq'"}],
 "facet":{"row":{"field":"var","title":null,"header":{"labelAngle":-90,"labelOrient":"left","labelFontSize":36,"labelFontWeight":"bold","labelColor":"#000","labelPadding":-8}},
  "column":{"field":"season","sort":["Winter","Spring","Summer","Autumn"],"title":null,"header":{"labels":false}}},
 "spacing":{"column":25},
 "spec":{"width":279,"height":262,"layer":[
  {"transform":[{"filter":"datum.year == 2003 || datum.year == 2010 || datum.year == 2014"}],"mark":{"type":"rule","strokeDash":[1.5,3.5],"strokeWidth":1.5,"color":"#000"},"encoding":{"x":{"field":"year","type":"quantitative"}}},
  {"mark":{"type":"line","strokeWidth":1.8},"encoding":{"x":{"field":"year","type":"quantitative","scale":{"domain":[1997,2019],"nice":false,"zero":false},"axis":{"values":[2000,2005,2010,2015],"labels":false,"title":null}},"y":{"field":"obs","type":"quantitative","scale":{"domain":[0,20],"nice":false},"axis":{"values":[0,5,10,15,20],"title":"Days [#]"}},"color":{"datum":"Observed"},"strokeDash":{"datum":"Observed"}}},
  {"mark":{"type":"line","strokeWidth":1.8},"encoding":{"x":{"field":"year","type":"quantitative"},"y":{"field":"gau","type":"quantitative","axis":{"title":"Days [#]"}},"color":{"datum":"Gaussian filter"},"strokeDash":{"datum":"Gaussian filter"}}},
  {"transform":[{"filter":"datum.year == 1997"}],"mark":{"type":"text","align":"right","baseline":"top","fontSize":38,"dx":-3,"dy":3},"encoding":{"x":{"datum":2019},"y":{"datum":20},"text":{"field":"tag"}}}
 ]}},
{"transform":[{"filter":"datum.var == 'DPWG freq'"}],
 "facet":{"row":{"field":"var","title":null,"header":{"labelAngle":-90,"labelOrient":"left","labelFontSize":36,"labelFontWeight":"bold","labelColor":"#000","labelPadding":-8}},
  "column":{"field":"season","sort":["Winter","Spring","Summer","Autumn"],"title":null,"header":{"labels":false}}},
 "spacing":{"column":25},
 "spec":{"width":279,"height":262,"layer":[
  {"transform":[{"filter":"datum.year == 2003 || datum.year == 2010 || datum.year == 2014"}],"mark":{"type":"rule","strokeDash":[1.5,3.5],"strokeWidth":1.5,"color":"#000"},"encoding":{"x":{"field":"year","type":"quantitative"}}},
  {"mark":{"type":"line","strokeWidth":1.8},"encoding":{"x":{"field":"year","type":"quantitative","scale":{"domain":[1997,2019],"nice":false,"zero":false},"axis":{"values":[2000,2005,2010,2015],"format":"d","title":null}},"y":{"field":"obs","type":"quantitative","scale":{"domain":[0,20],"nice":false},"axis":{"values":[0,5,10,15,20],"title":"Days [#]"}},"color":{"datum":"Observed"},"strokeDash":{"datum":"Observed"}}},
  {"mark":{"type":"line","strokeWidth":1.8},"encoding":{"x":{"field":"year","type":"quantitative"},"y":{"field":"gau","type":"quantitative","axis":{"title":"Days [#]"}},"color":{"datum":"Gaussian filter"},"strokeDash":{"datum":"Gaussian filter"}}},
  {"transform":[{"filter":"datum.year == 1997"}],"mark":{"type":"text","align":"right","baseline":"top","fontSize":38,"dx":-3,"dy":3},"encoding":{"x":{"datum":2019},"y":{"datum":20},"text":{"field":"tag"}}}
 ]}}
]
}
